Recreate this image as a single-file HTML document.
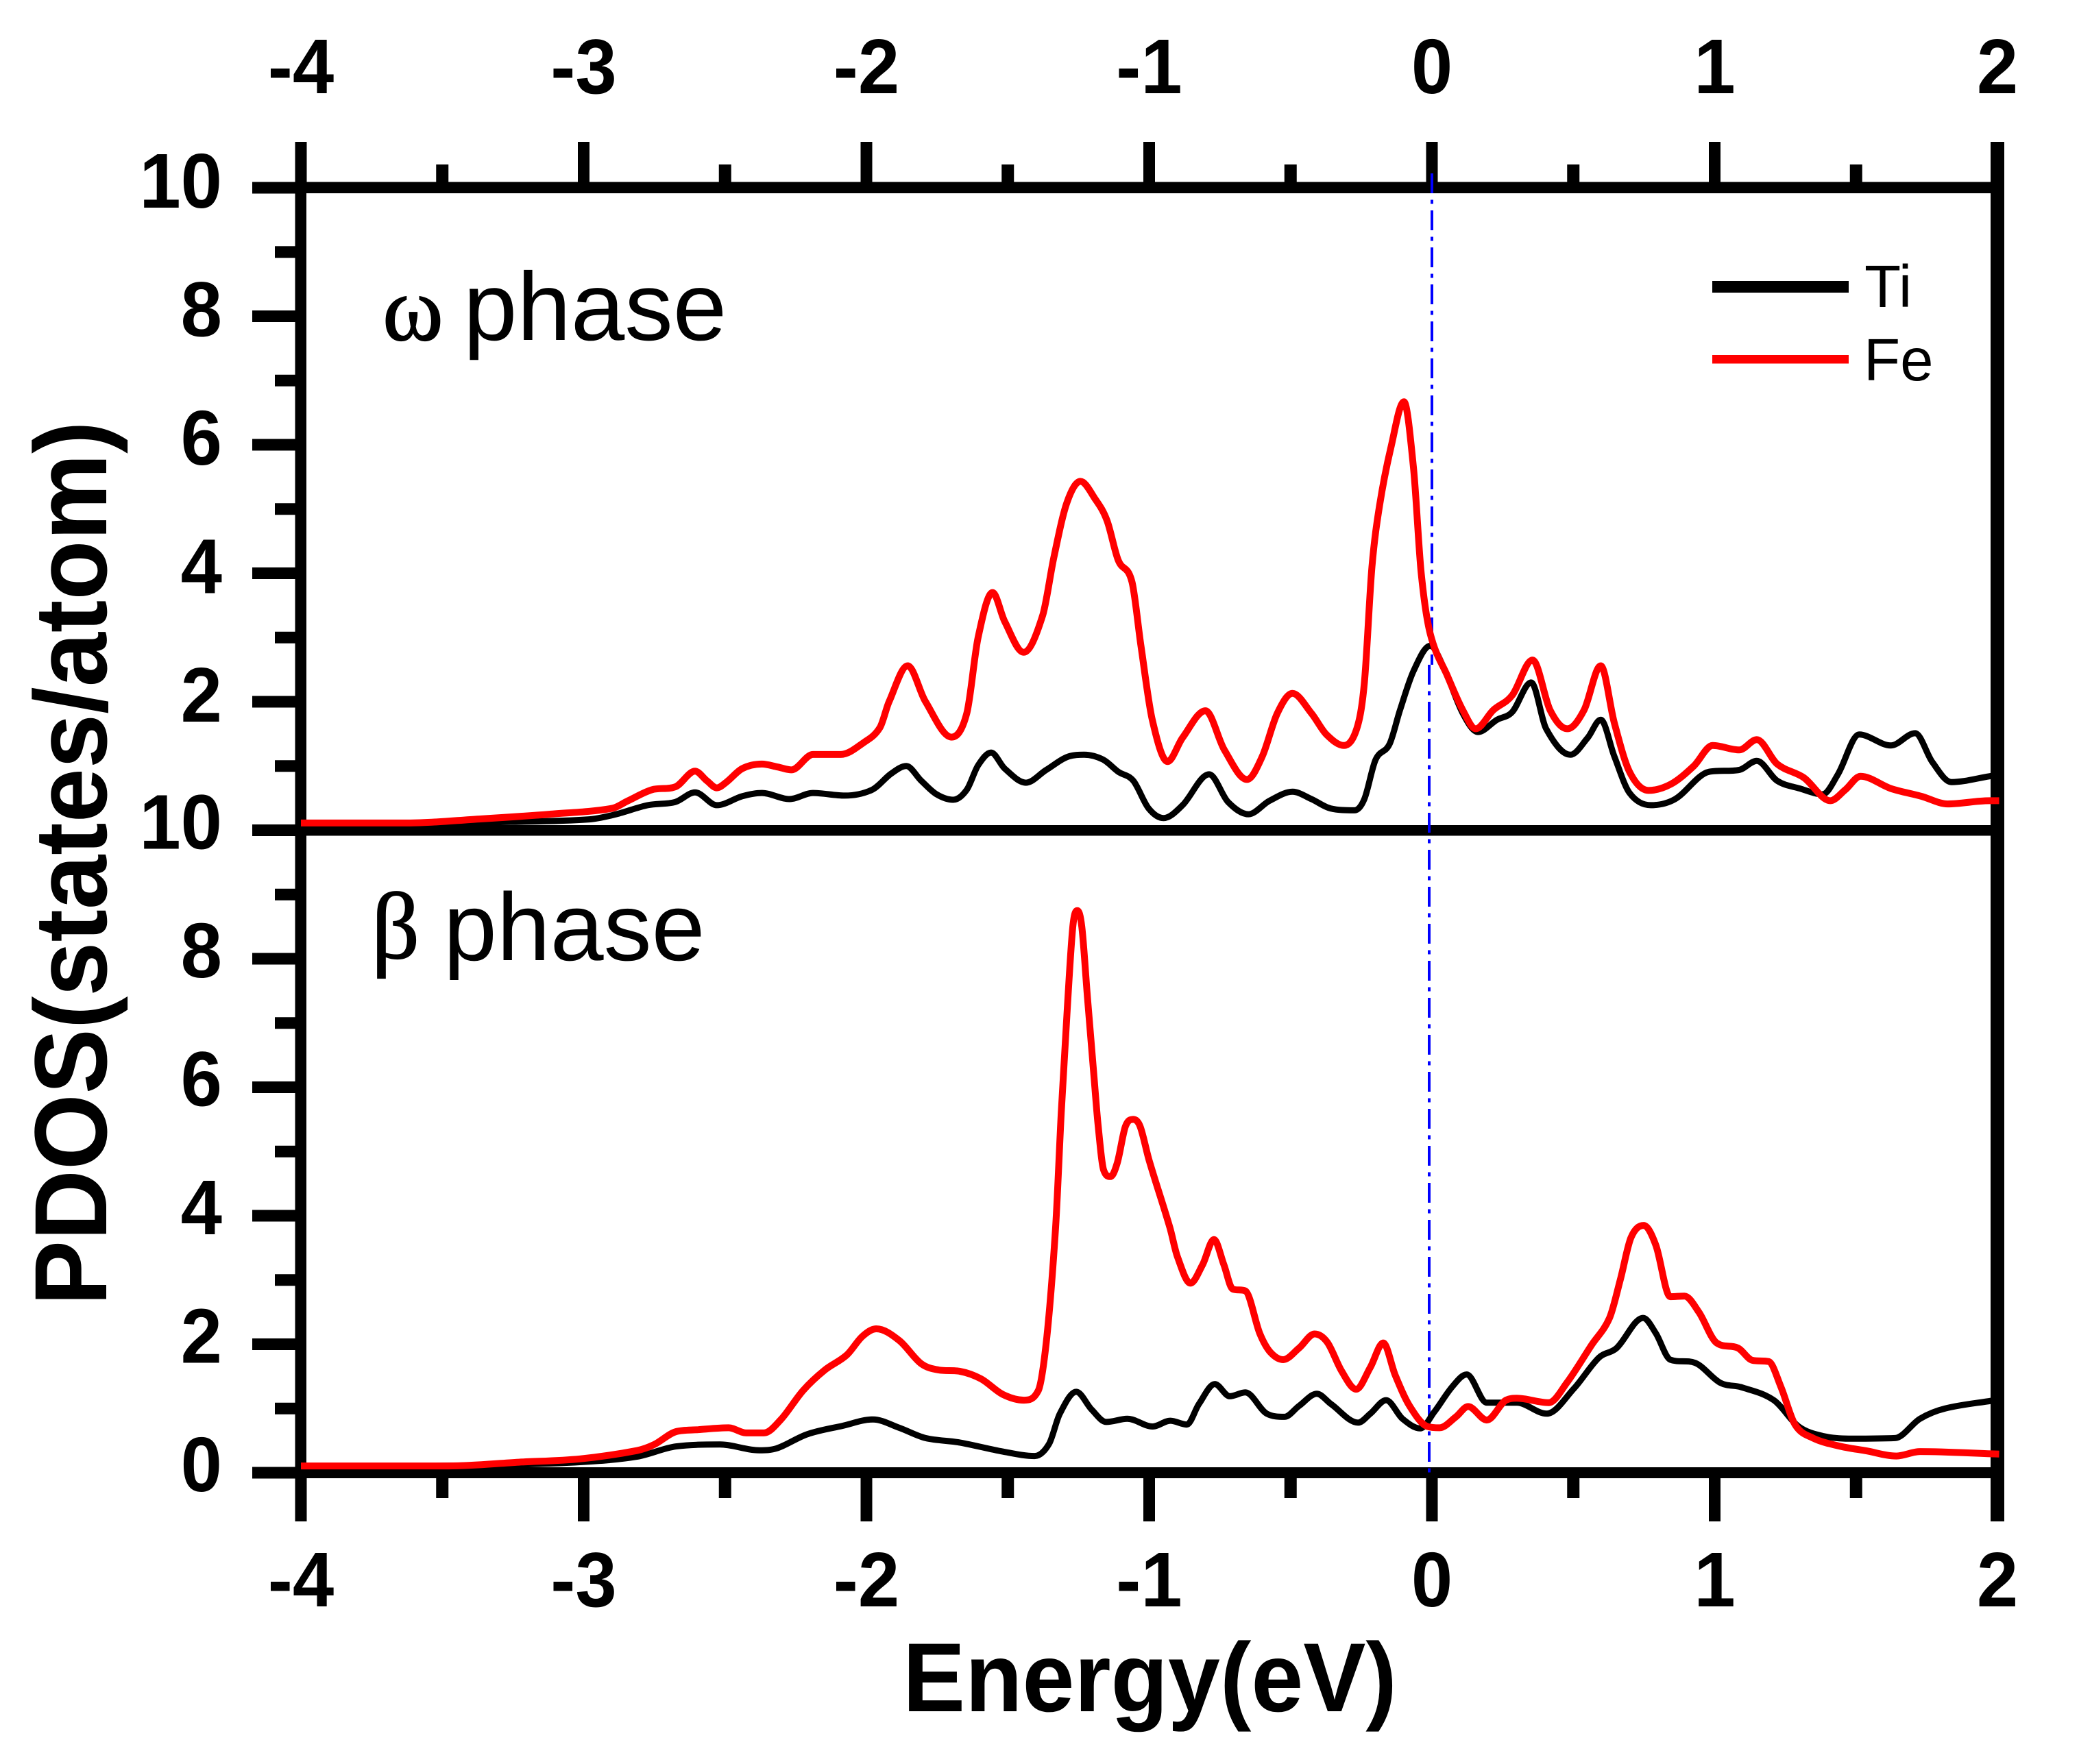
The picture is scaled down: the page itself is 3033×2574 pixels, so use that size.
<!DOCTYPE html>
<html lang="en">
<head>
<meta charset="utf-8">
<title>PDOS of Ti and Fe in omega and beta phases</title>
<style>
html,body{margin:0;padding:0;background:#fff;width:3033px;height:2574px;overflow:hidden}
svg{display:block}
text{fill:#000;font-family:"Liberation Sans",sans-serif}
.tick{font-weight:700;font-size:113px}
.title{font-weight:700}
.phase{font-size:141px}
.sym{font-family:"Liberation Serif",serif;font-size:135px;stroke:#000;stroke-width:1.5px}
.leg{font-size:87px}
</style>
</head>
<body>
<svg id="chart" xmlns="http://www.w3.org/2000/svg" width="3033" height="2574" viewBox="0 0 3033 2574">
  <rect x="0" y="0" width="3033" height="2574" fill="#fff"/>
  <g id="axes"></g>
  <g id="fermi"></g>
  <g id="series"></g>

  <text class="title" transform="translate(1317 2497) scale(0.955 1)" font-size="143">Energy(eV)</text>
  <text class="title" transform="translate(155 1905) rotate(-90) scale(0.95 1)" font-size="150">PDOS(states/atom)</text>

  <text class="sym" x="558" y="496">ω</text>
  <text class="phase" x="676" y="496">phase</text>
  <text class="sym" x="542" y="1398" style="font-size:138px">β</text>
  <text class="phase" x="647" y="1401" style="font-size:140px">phase</text>

  <rect x="2498" y="410" width="199" height="17" fill="#000"/>
  <text class="leg" x="2720" y="448">Ti</text>
  <rect x="2498" y="518" width="199" height="12.5" fill="#f00"/>
  <text class="leg" x="2719" y="555">Fe</text>
</svg>
<script>
const xTickValues = [-4, -3, -2, -1, 0, 1, 2];
const xMinorValues = [-3.5, -2.5, -1.5, -0.5, 0.5, 1.5];
const yTickValues = [0, 2, 4, 6, 8, 10];
const yMinorValues = [1, 3, 5, 7, 9];

const omegaFeEnergy = [-4,-3.622,-3.37,-3.121,-2.9,-2.843,-2.759,-2.676,-2.606,-2.564,-2.529,-2.495,-2.439,-2.37,-2.314,-2.265,-2.189,-2.091,-2.008,-1.952,-1.92,-1.854,-1.792,-1.699,-1.645,-1.605,-1.554,-1.511,-1.444,-1.377,-1.337,-1.291,-1.243,-1.19,-1.149,-1.109,-1.061,-1.029,-0.989,-0.935,-0.882,-0.801,-0.734,-0.654,-0.6,-0.547,-0.493,-0.426,-0.373,-0.311,-0.266,-0.239,-0.212,-0.185,-0.145,-0.099,-0.065,-0.038,-0.006,0.056,0.109,0.155,0.217,0.284,0.356,0.418,0.479,0.538,0.597,0.645,0.699,0.766,0.846,0.926,0.993,1.087,1.149,1.221,1.315,1.409,1.462,1.516,1.623,1.73,1.824,1.971,2.006];
const omegaFeValues = [0.113,0.113,0.175,0.25,0.34,0.46,0.63,0.675,0.92,0.77,0.66,0.75,0.96,1.03,0.985,0.94,1.18,1.18,1.37,1.6,2.0,2.56,2.01,1.45,1.82,3.0,3.7,3.25,2.77,3.34,4.25,5.1,5.43,5.15,4.82,4.2,3.87,2.87,1.72,1.07,1.44,1.86,1.25,0.79,1.15,1.82,2.13,1.82,1.49,1.32,1.58,2.29,4.1,5.06,5.96,6.67,5.63,4.01,3.06,2.39,1.87,1.58,1.87,2.1,2.65,1.87,1.58,1.87,2.56,1.67,0.91,0.62,0.72,1.0,1.32,1.25,1.41,1.03,0.82,0.46,0.63,0.84,0.65,0.53,0.41,0.46,0.46];

const omegaTiEnergy = [-4,-3.26,-2.98,-2.885,-2.773,-2.676,-2.606,-2.529,-2.439,-2.37,-2.272,-2.189,-2.077,-1.98,-1.913,-1.859,-1.806,-1.752,-1.693,-1.645,-1.605,-1.559,-1.511,-1.436,-1.364,-1.284,-1.23,-1.163,-1.109,-1.056,-1.002,-0.949,-0.882,-0.788,-0.721,-0.649,-0.574,-0.493,-0.426,-0.359,-0.274,-0.239,-0.199,-0.15,-0.113,-0.065,-0.006,0.042,0.109,0.163,0.23,0.284,0.351,0.404,0.49,0.551,0.597,0.645,0.699,0.774,0.86,0.98,1.087,1.149,1.221,1.301,1.382,1.436,1.511,1.623,1.709,1.77,1.837,1.971,2.0];
const omegaTiValues = [0.08,0.13,0.17,0.25,0.39,0.44,0.59,0.39,0.53,0.58,0.485,0.58,0.54,0.63,0.88,1.0,0.77,0.56,0.475,0.63,1.01,1.21,0.96,0.74,0.94,1.15,1.175,1.1,0.91,0.77,0.34,0.19,0.39,0.87,0.44,0.25,0.46,0.6,0.485,0.34,0.31,0.485,1.1,1.34,1.87,2.48,2.87,2.53,1.82,1.53,1.72,1.84,2.3,1.58,1.175,1.44,1.72,1.15,0.58,0.39,0.485,0.91,0.94,1.08,0.77,0.65,0.56,0.87,1.49,1.32,1.51,1.06,0.75,0.84,0.87];

const betaFeEnergy = [-4,-3.477,-3.229,-3.013,-2.812,-2.75,-2.673,-2.595,-2.487,-2.425,-2.363,-2.302,-2.224,-2.147,-2.07,-2.015,-1.965,-1.884,-1.807,-1.745,-1.67,-1.594,-1.518,-1.443,-1.392,-1.362,-1.331,-1.311,-1.29,-1.27,-1.254,-1.238,-1.218,-1.198,-1.181,-1.161,-1.137,-1.113,-1.084,-1.056,-1.032,-1.0,-0.927,-0.9,-0.854,-0.811,-0.771,-0.736,-0.705,-0.66,-0.609,-0.572,-0.526,-0.47,-0.415,-0.37,-0.319,-0.268,-0.218,-0.172,-0.13,-0.079,-0.016,0.027,0.085,0.128,0.194,0.262,0.3,0.413,0.477,0.565,0.628,0.666,0.704,0.749,0.792,0.843,0.893,0.944,1.007,1.083,1.133,1.191,1.234,1.284,1.348,1.436,1.537,1.643,1.726,2.006];
const betaFeValues = [0.106,0.106,0.164,0.216,0.345,0.44,0.64,0.67,0.7,0.62,0.62,0.83,1.28,1.6,1.83,2.12,2.24,2.06,1.7,1.6,1.58,1.46,1.22,1.13,1.28,2.11,3.82,5.6,7.2,8.5,8.75,8.49,7.38,6.32,5.43,4.71,4.61,4.82,5.39,5.5,5.39,4.86,3.82,3.36,2.95,3.24,3.63,3.24,2.86,2.83,2.17,1.88,1.76,1.94,2.16,2.03,1.58,1.3,1.64,2.02,1.52,1.04,0.72,0.7,0.87,1.03,0.82,1.13,1.16,1.09,1.4,1.99,2.41,3.0,3.66,3.85,3.54,2.74,2.75,2.5,2.02,1.94,1.75,1.73,1.34,0.75,0.54,0.42,0.34,0.26,0.33,0.29];

const betaTiEnergy = [-4,-3.32,-3.013,-2.812,-2.673,-2.518,-2.379,-2.317,-2.209,-2.085,-1.977,-1.884,-1.791,-1.67,-1.518,-1.405,-1.354,-1.316,-1.258,-1.203,-1.152,-1.077,-0.988,-0.925,-0.867,-0.824,-0.768,-0.715,-0.66,-0.584,-0.521,-0.47,-0.407,-0.357,-0.261,-0.218,-0.162,-0.104,-0.041,0.009,0.072,0.123,0.194,0.3,0.406,0.502,0.59,0.653,0.747,0.792,0.843,0.931,1.02,1.095,1.209,1.297,1.385,1.487,1.638,1.726,1.815,1.979,2.0];
const betaTiValues = [0.08,0.12,0.165,0.25,0.41,0.44,0.35,0.38,0.6,0.73,0.83,0.7,0.54,0.47,0.33,0.26,0.45,0.92,1.26,0.98,0.79,0.84,0.72,0.81,0.75,1.07,1.38,1.19,1.25,0.92,0.87,1.04,1.23,1.07,0.78,0.92,1.13,0.84,0.69,0.95,1.34,1.53,1.09,1.09,0.92,1.31,1.79,1.94,2.41,2.17,1.76,1.71,1.4,1.33,1.13,0.72,0.57,0.53,0.54,0.84,1.0,1.12,1.13];

const NS = 'http://www.w3.org/2000/svg';
const axesG = document.getElementById('axes');
const fermiG = document.getElementById('fermi');
const seriesG = document.getElementById('series');

function xScale(e) { return 439 + (e + 4) * 412.5; }
function yOmega(v) { return 1211.5 - v * 93.75; }
function yBeta(v) { return 2149 - v * 93.75; }

function bar(parent, x, y, w, h, name) {
  const el = document.createElementNS(NS, 'rect');
  el.setAttribute('x', x);
  el.setAttribute('y', y);
  el.setAttribute('width', w);
  el.setAttribute('height', h);
  el.setAttribute('fill', '#000');
  
  
  parent.appendChild(el);
  return el;
}

function label(x, y, anchor, str, name) {
  const el = document.createElementNS(NS, 'text');
  el.setAttribute('transform', 'translate(' + x + ' ' + y + ') scale(0.96 1)');
  el.setAttribute('text-anchor', anchor);
  el.setAttribute('class', 'tick');
  
  
  el.textContent = str;
  axesG.appendChild(el);
}

// spines
bar(axesG, 368, 265.5, 2556, 16.5, 'top-axis-line');
bar(axesG, 368, 1204, 2544, 15.5, 'middle-axis-line');
bar(axesG, 368, 2141, 2556, 16, 'bottom-axis-line');
bar(axesG, 430.5, 207, 16.5, 2013, 'left-axis-line');
bar(axesG, 2904, 207, 20, 2013, 'right-axis-line');

// x ticks
xTickValues.forEach(function (e) {
  const x = xScale(e);
  bar(axesG, x - 8.5, 207, 17, 60, 'top-x-tick-major');
  bar(axesG, x - 8.5, 2155, 17, 65, 'bottom-x-tick-major');
  label(x, 136, 'middle', String(e), 'top-x-tick-label');
  label(x, 2344, 'middle', String(e), 'bottom-x-tick-label');
});
xMinorValues.forEach(function (e) {
  const x = xScale(e);
  bar(axesG, x - 9, 240, 18, 27, 'top-x-tick-minor');
  bar(axesG, x - 9, 2155, 18, 31, 'bottom-x-tick-minor');
});

// y ticks
yTickValues.forEach(function (v) {
  if (v !== 0) {
    bar(axesG, 368, yOmega(v) - 8.5, 64, 17, 'omega-y-tick-major');
    label(324, yOmega(v) + 29, 'end', String(v), 'omega-y-tick-label');
  }
  bar(axesG, 368, yBeta(v) - 8.5, 64, 17, 'beta-y-tick-major');
  label(324, yBeta(v) + 27, 'end', String(v), 'beta-y-tick-label');
});
yMinorValues.forEach(function (v) {
  bar(axesG, 401, yOmega(v) - 8.5, 31, 17, 'omega-y-tick-minor');
  bar(axesG, 401, yBeta(v) - 8.5, 31, 17, 'beta-y-tick-minor');
});

// Fermi level
function fermi(x, y1, y2, name) {
  const el = document.createElementNS(NS, 'line');
  el.setAttribute('x1', x);
  el.setAttribute('x2', x);
  el.setAttribute('y1', y1);
  el.setAttribute('y2', y2);
  el.setAttribute('stroke', '#0000ff');
  el.setAttribute('stroke-width', '4');
  el.setAttribute('stroke-dasharray', '29 9.5 6 9.5');
  
  
  fermiG.appendChild(el);
}
fermi(xScale(0), 253, 970, 'fermi-line-omega');
fermi(xScale(0) - 4, 970, 2154, 'fermi-line-beta');

// smooth cubic path: flat at local extrema, centred slope elsewhere
function curvePath(es, vs, yf) {
  const px = es.map(xScale);
  const py = vs.map(yf);
  const n = px.length;
  const s = [];
  for (let i = 0; i < n - 1; i++) s.push((py[i + 1] - py[i]) / (px[i + 1] - px[i]));
  const m = [s[0]];
  for (let i = 1; i < n - 1; i++) {
    if (s[i - 1] * s[i] <= 0) { m.push(0); continue; }
    const c = (py[i + 1] - py[i - 1]) / (px[i + 1] - px[i - 1]);
    const lim = 3 * Math.min(Math.abs(s[i - 1]), Math.abs(s[i]));
    m.push(Math.sign(c) * Math.min(Math.abs(c), lim));
  }
  m.push(s[n - 2]);
  let d = 'M' + px[0].toFixed(1) + ' ' + py[0].toFixed(1);
  for (let i = 0; i < n - 1; i++) {
    const h = (px[i + 1] - px[i]) / 3;
    d += 'C' + (px[i] + h).toFixed(1) + ' ' + (py[i] + m[i] * h).toFixed(1) + ' ' +
      (px[i + 1] - h).toFixed(1) + ' ' + (py[i + 1] - m[i + 1] * h).toFixed(1) + ' ' +
      px[i + 1].toFixed(1) + ' ' + py[i + 1].toFixed(1);
  }
  return d;
}

function drawCurve(es, vs, yf, color, width, name) {
  const el = document.createElementNS(NS, 'path');
  el.setAttribute('d', curvePath(es, vs, yf));
  el.setAttribute('fill', 'none');
  el.setAttribute('stroke', color);
  el.setAttribute('stroke-width', width);
  el.setAttribute('stroke-linejoin', 'round');
  
  
  seriesG.appendChild(el);
}

drawCurve(omegaTiEnergy, omegaTiValues, yOmega, '#000', 9, 'omega-ti-line');
drawCurve(omegaFeEnergy, omegaFeValues, yOmega, '#f00', 10, 'omega-fe-line');
drawCurve(betaTiEnergy, betaTiValues, yBeta, '#000', 9, 'beta-ti-line');
drawCurve(betaFeEnergy, betaFeValues, yBeta, '#f00', 10, 'beta-fe-line');
</script>
</body>
</html>
